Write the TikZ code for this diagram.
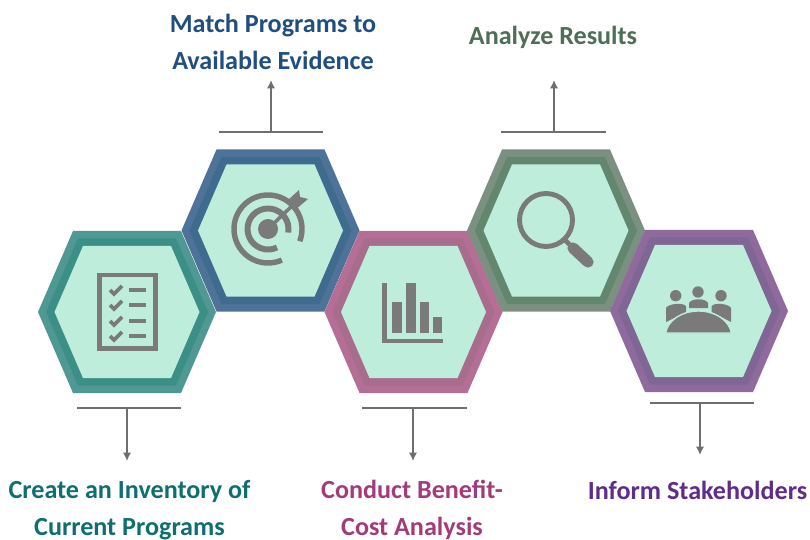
\documentclass[tikz,border=0pt]{standalone}
\usepackage{fontspec}
\setmainfont{Carlito}
\usetikzlibrary{arrows.meta}

\definecolor{tealOut}{HTML}{4F9894}
\definecolor{tealIn}{HTML}{3B8F86}
\definecolor{blueOut}{HTML}{4F7299}
\definecolor{blueIn}{HTML}{3F6B8F}
\definecolor{pinkOut}{HTML}{B56E95}
\definecolor{pinkIn}{HTML}{A86C8C}
\definecolor{greenOut}{HTML}{7B9080}
\definecolor{greenIn}{HTML}{63866F}
\definecolor{purpleOut}{HTML}{8F6A9D}
\definecolor{purpleIn}{HTML}{7F6694}
\definecolor{cellFill}{HTML}{BFEDDC}
\definecolor{iconGray}{HTML}{7A7A7A}
\definecolor{ruleGray}{HTML}{6E6E6E}
\definecolor{tealText}{HTML}{0F6E70}
\definecolor{blueText}{HTML}{1F4E80}
\definecolor{greenText}{HTML}{4E6E58}
\definecolor{pinkText}{HTML}{A23B78}
\definecolor{purpleText}{HTML}{5E2C8A}

\tikzset{
    pics/hexcell/.style 2 args={code={
        \fill[#1] (-89,0) -- (-54,-81) -- (54,-81) -- (89,0) -- (54,81) -- (-54,81) -- cycle;
        \fill[#2] (-81,0) -- (-49,-73.5) -- (49,-73.5) -- (81,0) -- (49,73.5) -- (-49,73.5) -- cycle;
        \fill[cellFill] (-72.5,0) -- (-44,-66) -- (44,-66) -- (72.5,0) -- (44,66) -- (-44,66) -- cycle;
    }},
    stepline/.style={ruleGray, line width=0.7pt},
    steparrow/.style={ruleGray, line width=0.5pt, -{Latex[length=2.4pt,width=2.4pt]}},
    steplabel/.style={font=\bfseries\fontsize{7.43}{10.5}\selectfont, align=center, inner sep=0pt},
    iconline/.style={iconGray, line width=1.4pt},
    iconfill/.style={fill=iconGray, draw=none},
}

\begin{document}
\begin{tikzpicture}[x=0.01cm, y=-0.01cm]
    \useasboundingbox (0, 0) rectangle (810, 540);

    % Draw the hexagons
    \pic at (127, 312) {hexcell={tealOut}{tealIn}};
    \pic at (270.5, 230.5) {hexcell={blueOut}{blueIn}};
    \pic at (413.5, 312) {hexcell={pinkOut}{pinkIn}};
    \pic at (556, 230.5) {hexcell={greenOut}{greenIn}};
    \pic at (699, 311) {hexcell={purpleOut}{purpleIn}};

    % Draw the checklist icon
    \draw[iconline] (99.7, 275) rectangle (155.7, 348.7);
    \foreach \y in {290, 305, 321, 336} {
        \draw[iconline, line width=1.1pt] (110, \y) -- (114, \y+4) -- (122, \y-4);
        \draw[iconline, line width=1.05pt] (129, \y) -- (146, \y);
    }

    % Draw the target icon
    \draw[iconline, line width=1.55pt] (268, 229) ++(21:34) arc[start angle=21, end angle=-294, radius=34];
    \draw[iconline, line width=1.7pt] (268, 229) ++(10:20.5) arc[start angle=10, end angle=-296, radius=20.5];
    \fill[iconfill] (268, 229) circle (10);
    \draw[iconline, line width=1pt] (268, 229) -- (295, 203);
    \fill[iconfill] (288, 200) -- (299, 190) -- (300, 197) -- (308, 199) -- (295, 210) -- cycle;

    % Draw the bar chart icon
    \fill[iconfill] (381.7, 283) rectangle (386.7, 343);
    \fill[iconfill] (381.7, 338.5) rectangle (442.7, 343);
    \fill[iconfill] (392, 302) rectangle (402, 333);
    \fill[iconfill] (406, 283) rectangle (416, 333);
    \fill[iconfill] (419.5, 302) rectangle (429, 333);
    \fill[iconfill] (432.7, 317) rectangle (442, 333);

    % Draw the magnifier icon
    \draw[iconline] (546, 220) circle (26.5);
    \draw[iconline] (565, 240) -- (573, 248);
    \draw[iconline, line width=3.2pt, line cap=round] (573, 248) -- (588, 262);

    % Draw the meeting icon
    \fill[iconfill] (675.7, 295.7) circle (5.7);
    \fill[iconfill] (698, 292) circle (5.7);
    \fill[iconfill] (721, 295.7) circle (5.7);
    \fill[iconfill] (666, 322) -- (666, 308) .. controls (668, 304) and (682, 302) .. (686, 306) -- (686, 312) -- cycle;
    \fill[iconfill] (689, 308) -- (689, 303) .. controls (692, 298) and (705, 298) .. (708, 303) -- (708, 308) -- cycle;
    \fill[iconfill] (731, 322) -- (731, 308) .. controls (729, 304) and (715, 302) .. (711.7, 306) -- (711.7, 312) -- cycle;
    \filldraw[fill=iconGray, draw=cellFill, line width=0.4pt] (665.5, 333) .. controls (668, 320) and (682, 311) .. (698.5, 311) .. controls (715, 311) and (729, 320) .. (731.5, 333) -- cycle;

    % Draw the lines and arrows
    \coordinate (ruleAl) at (77, 408);   \coordinate (ruleAr) at (181, 408);
    \coordinate (ruleAm) at (127, 408);  \coordinate (tipA) at (127, 461);
    \coordinate (ruleBl) at (219, 132);  \coordinate (ruleBr) at (323, 132);
    \coordinate (ruleBm) at (271, 132);  \coordinate (tipB) at (271, 80);
    \coordinate (ruleCl) at (362, 408);  \coordinate (ruleCr) at (467, 408);
    \coordinate (ruleCm) at (413, 408);  \coordinate (tipC) at (413, 461);
    \coordinate (ruleDl) at (501, 132);  \coordinate (ruleDr) at (606, 132);
    \coordinate (ruleDm) at (554, 132);  \coordinate (tipD) at (554, 80);
    \coordinate (ruleEl) at (650, 403);  \coordinate (ruleEr) at (754, 403);
    \coordinate (ruleEm) at (700, 403);  \coordinate (tipE) at (700, 455);
    \foreach \n in {A, B, C, D, E} {
        \draw[stepline] (rule\n l) -- (rule\n r);
        \draw[steparrow] (rule\n m) -- (tip\n);
    }

    % Add the labels
    \node[steplabel, text=tealText] (inventory) at (129.5, 510) {Create an Inventory of\\Current Programs};
    \node[steplabel, text=blueText] (match) at (273, 42) {Match Programs to\\Available Evidence};
    \node[steplabel, text=pinkText] (benefit) at (412, 510) {Conduct Benefit-\\Cost Analysis};
    \node[steplabel, text=greenText] (analyze) at (553, 37.5) {Analyze Results};
    \node[steplabel, text=purpleText] (inform) at (697.5, 490.5) {Inform Stakeholders};
\end{tikzpicture}
\end{document}
